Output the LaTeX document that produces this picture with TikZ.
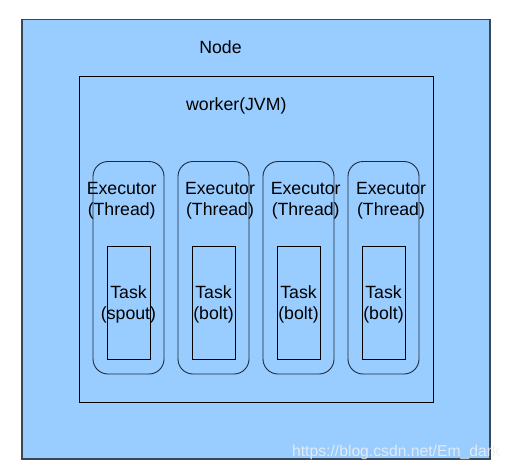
\documentclass[tikz,border=0pt]{standalone}
\usepackage{fontspec}
\setmainfont{Liberation Sans}
\definecolor{skyfill}{HTML}{99CCFF}
\definecolor{outerline}{HTML}{3A4656}
\definecolor{execline}{HTML}{1F2A3A}
\begin{document}
\begin{tikzpicture}[x=1pt,y=-1pt,
  box/.style={draw=black, line width=0.9pt, inner sep=0pt, outer sep=0pt},
  execbox/.style={box, draw=execline, rounded corners=15pt, minimum width=71pt, minimum height=212.5pt},
  taskbox/.style={box, minimum width=43pt, minimum height=113.5pt},
  lbl/.style={inner sep=0pt, align=center, font=\fontsize{17.7}{21}\selectfont}
]
\useasboundingbox (0,0) rectangle (510,471);
\node[box, fill=skyfill, draw=outerline, line width=1.3pt, minimum width=468pt, minimum height=439.5pt] (nodebox) at (256,239.25) {};
\node[box, minimum width=354pt, minimum height=325.5pt] (worker) at (256,239.25) {};
\foreach \i/\x in {1/93,2/178,3/263,4/348}{
  \node[execbox] (exec\i) at ({\x+35.5},267.75) {};
  \node[taskbox] (task\i) at ({\x+14+21.5},302.75) {};
}
\node[lbl] (nodelbl) at (220.5,47.5) {Node};
\node[lbl] (workerlbl) at (236.3,105.5) {worker(JVM)};
\node[lbl] (exec1lbl) at (121.7,201) {Executor\\(Thread)};
\node[lbl] (exec2lbl) at (220,201) {Executor\\(Thread)};
\node[lbl] (exec3lbl) at (305.7,201) {Executor\\(Thread)};
\node[lbl] (exec4lbl) at (391,201) {Executor\\(Thread)};
\node[lbl] (task1lbl) at (128.5,304.5) {Task\\(spout)};
\node[lbl] (task2lbl) at (213.5,304.5) {Task\\(bolt)};
\node[lbl] (task3lbl) at (298.5,304.5) {Task\\(bolt)};
\node[lbl] (task4lbl) at (383.5,304.5) {Task\\(bolt)};
\node[inner sep=0pt, text=white!88!gray, opacity=0.85, font=\fontsize{15.7}{18}\selectfont] (watermark) at (396,452) {https://blog.csdn.net/Em\_dark};
\end{tikzpicture}
\end{document}
